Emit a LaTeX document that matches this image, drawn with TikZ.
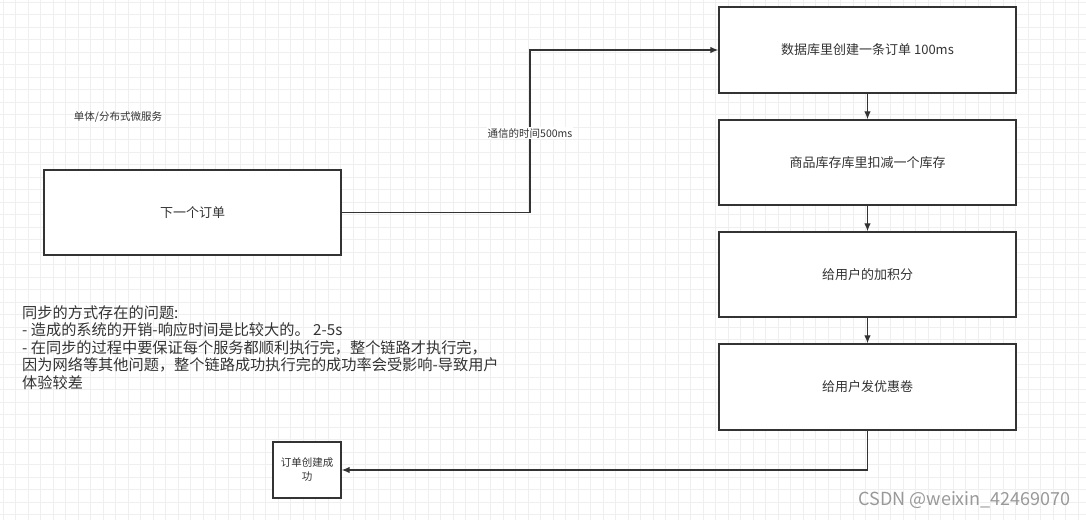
\documentclass[tikz,border=0pt]{standalone}
\usepackage{fontspec}
\setmainfont{Noto Sans CJK SC}
\usetikzlibrary{arrows.meta}
\definecolor{ink}{HTML}{333333}
\definecolor{gridc}{HTML}{EFEFEF}
\tikzset{
  box/.style={draw=ink, line width=1.4pt, fill=white, text=ink, inner sep=2pt, align=center},
  arr/.style={draw=ink, line width=1.2pt, -{Latex[length=8pt,width=6.5pt]}},
  fbox/.style={font=\fontsize{13}{15}\selectfont},
  small/.style={text=ink, font=\fontsize{10.5}{13}\selectfont},
  gridline/.style={draw=gridc, line width=0.6pt},
}
\begin{document}
\begin{tikzpicture}[x=1pt,y=-1pt]
\useasboundingbox (0,0) rectangle (1086,520);
\fill[white] (0,0) rectangle (1086,520);
\foreach \gx in {3,15.5,...,1086} \draw[gridline] (\gx,0) -- (\gx,520);
\foreach \gy in {2,14.5,...,520} \draw[gridline] (0,\gy) -- (1086,\gy);

\node[small] (lbl) at (118,117) {单体/分布式微服务};

\node[box, fbox, minimum width=297pt, minimum height=85pt] (order) at (192.5,212.5) {下一个订单};

\node[box, fbox, minimum width=297pt, minimum height=86pt] (b1) at (867.5,50) {数据库里创建一条订单 100ms};
\node[box, fbox, minimum width=297pt, minimum height=85pt] (b2) at (867.5,162.5) {商品库存库里扣减一个库存};
\node[box, fbox, minimum width=297pt, minimum height=85pt] (b3) at (867.5,274.5) {给用户的加积分};
\node[box, fbox, minimum width=297pt, minimum height=86pt] (b4) at (867.5,387) {给用户发优惠卷};

\node[box, font=\fontsize{10.5}{14}\selectfont, minimum width=68pt, minimum height=56pt] (done) at (307,470) {订单创建成\\功};

\coordinate (turn) at (530,212.5);
\draw[arr] (order.east) -- (turn) |- (b1.west);
\node[small, fill=white, inner sep=1pt] (comm) at (530,133) {通信的时间500ms};

\draw[arr] (b1) -- (b2);
\draw[arr] (b2) -- (b3);
\draw[arr] (b3) -- (b4);
\draw[arr] (b4.south) |- (done.east);

\node[anchor=north west, text=ink, align=left, inner sep=0pt, font=\fontsize{15.2}{17.6}\selectfont] (notes) at (22,305) {同步的方式存在的问题:\\
- 造成的系统的开销-响应时间是比较大的。 2-5s\\
- 在同步的过程中要保证每个服务都顺利执行完，整个链路才执行完，\\
因为网络等其他问题，整个链路成功执行完的成功率会受影响-导致用户\\
体验较差};

\node[text=black!40, font=\fontsize{18}{20}\selectfont, anchor=east, inner sep=0pt] (wm) at (1071,500) {CSDN @weixin\_42469070};
\end{tikzpicture}
\end{document}
